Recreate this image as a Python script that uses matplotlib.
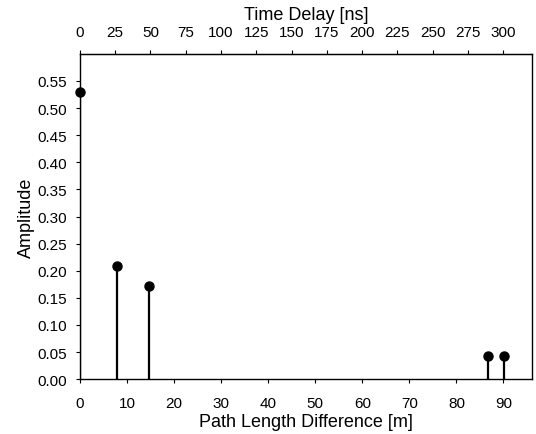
import matplotlib
matplotlib.use('Agg')
import matplotlib.pyplot as plt
import numpy as np

plt.rcParams['font.family'] = ['Liberation Sans', 'DejaVu Sans']

# path length difference [m] and amplitude of each echo
path_diff = [0.0, 7.9, 14.6, 86.8, 90.1]
amplitude = [0.530, 0.209, 0.171, 0.043, 0.042]

C = 0.299792458  # m per ns

fig = plt.figure(figsize=(5.36, 4.35), dpi=100)
ax = fig.add_axes([0.149, 0.126, 0.843, 0.748])

for x, y in zip(path_diff, amplitude):
    ax.plot([x, x], [0, y], color='black', lw=1.6)
ax.plot(path_diff, amplitude, 'o', color='black', ms=6.5, clip_on=False, zorder=3)

ax.set_xlim(0, 96)
ax.set_ylim(0, 0.60)
ax.set_xticks(np.arange(0, 91, 10))
ax.set_yticks(np.arange(0, 0.56, 0.05))
ax.yaxis.set_major_formatter(plt.FormatStrFormatter('%.2f'))
ax.tick_params(labelsize=11, length=3, width=0.8)
ax.tick_params(axis='x', pad=9)
ax.tick_params(axis='y', pad=6)
ax.set_xlabel('Path Length Difference [m]', fontsize=13, labelpad=2)
ax.set_ylabel('Amplitude', fontsize=13, labelpad=2)

top = ax.secondary_xaxis('top', functions=(lambda m: m / C, lambda t: t * C))
top.set_xticks(np.arange(0, 301, 25))
top.tick_params(labelsize=11, length=3, width=0.8, pad=8)
top.set_xlabel('Time Delay [ns]', fontsize=13, labelpad=4)

for s in ax.spines.values():
    s.set_linewidth(1.0)

fig.savefig('out.png', dpi=100)
